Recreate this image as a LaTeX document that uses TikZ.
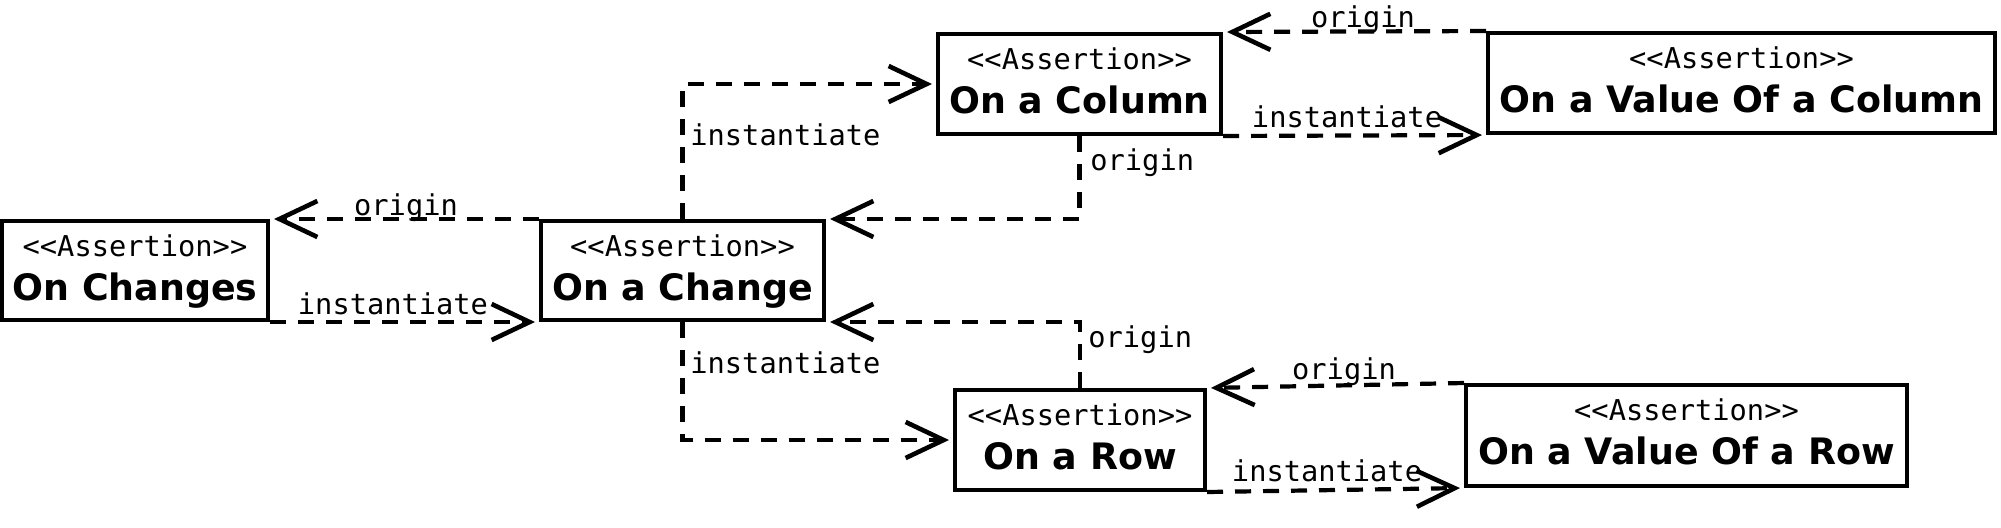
\documentclass[tikz,border=0pt]{standalone}
\usepackage{fontspec}
\setmainfont{DejaVu Sans}
\newfontfamily\monof{DejaVu Sans Mono}
\usetikzlibrary{arrows.meta,fit,calc}
\newcommand{\stereotxt}{<\kern0pt<Assertion>\kern0pt>}
\begin{document}
\begin{tikzpicture}[x=0.5pt,y=-0.5pt,
  box/.style={draw, line width=2pt, rectangle, inner sep=0pt},
  stereo/.style={font=\monof\fontsize{14.35}{16}\selectfont, inner sep=0pt, anchor=base},
  title/.style={font=\fontsize{18.2}{20}\selectfont\bfseries, inner sep=0pt, anchor=base},
  lab/.style={font=\monof\fontsize{14.35}{16}\selectfont, inner sep=0pt},
  conn/.style={line width=2.1pt, dash pattern=on 8pt off 6pt,
    -{Straight Barb[length=19pt,width=18pt,line width=2.3pt]}, shorten >=2pt}
]
\useasboundingbox[fill=white] (0,0) rectangle (2001,527);

% boxes
\node[box, fit={(2,221) (268,320)}] (chs) {};
\node[box, fit={(541,221) (824,320)}] (chg) {};
\node[box, fit={(938,34) (1221,134)}] (col) {};
\node[box, fit={(1488,33) (1995,133)}] (vcol) {};
\node[box, fit={(955,390) (1205,490)}] (row) {};
\node[box, fit={(1466,385) (1907,486)}] (vrow) {};

% box texts
\foreach \b/\t in {chs/On Changes, chg/On a Change, col/On a Column, vcol/On a Value Of a Column, row/On a Row, vrow/On a Value Of a Row}{
  \node[stereo] (\b-s) at ($(\b.north)+(0,37)$) {\stereotxt};
  \node[title] (\b-t) at ($(\b.north)+(0,81)$) {\t};
}

% connectors
\draw[conn] (chg.north west) -- (chs.north east);
\draw[conn] (chs.south east) -- (chg.south west);
\draw[conn] (chg.north) |- (col.west);
\draw[conn] (col.south) |- (chg.north east);
\draw[conn] (vcol.north west) -- (col.north east);
\draw[conn] (col.south east) -- (vcol.south west);
\draw[conn] (chg.south) |- (row.west);
\draw[conn] (row.north) |- (chg.south east);
\draw[conn] (vrow.north west) -- (row.north east);
\draw[conn] (row.south east) -- (vrow.south west);

% labels
\node[lab, anchor=base] (l1) at (406,215) {origin};
\node[lab, anchor=base] (l2) at (393,314) {instantiate};
\node[lab, anchor=base west] (l3) at (690,145) {instantiate};
\node[lab, anchor=base west] (l4) at (1090,170) {origin};
\node[lab, anchor=base] (l5) at (1363,27) {origin};
\node[lab, anchor=base] (l6) at (1347,127) {instantiate};
\node[lab, anchor=base west] (l7) at (690,373) {instantiate};
\node[lab, anchor=base west] (l8) at (1088,347) {origin};
\node[lab, anchor=base] (l9) at (1344,379) {origin};
\node[lab, anchor=base] (l10) at (1327,481) {instantiate};
\end{tikzpicture}
\end{document}
